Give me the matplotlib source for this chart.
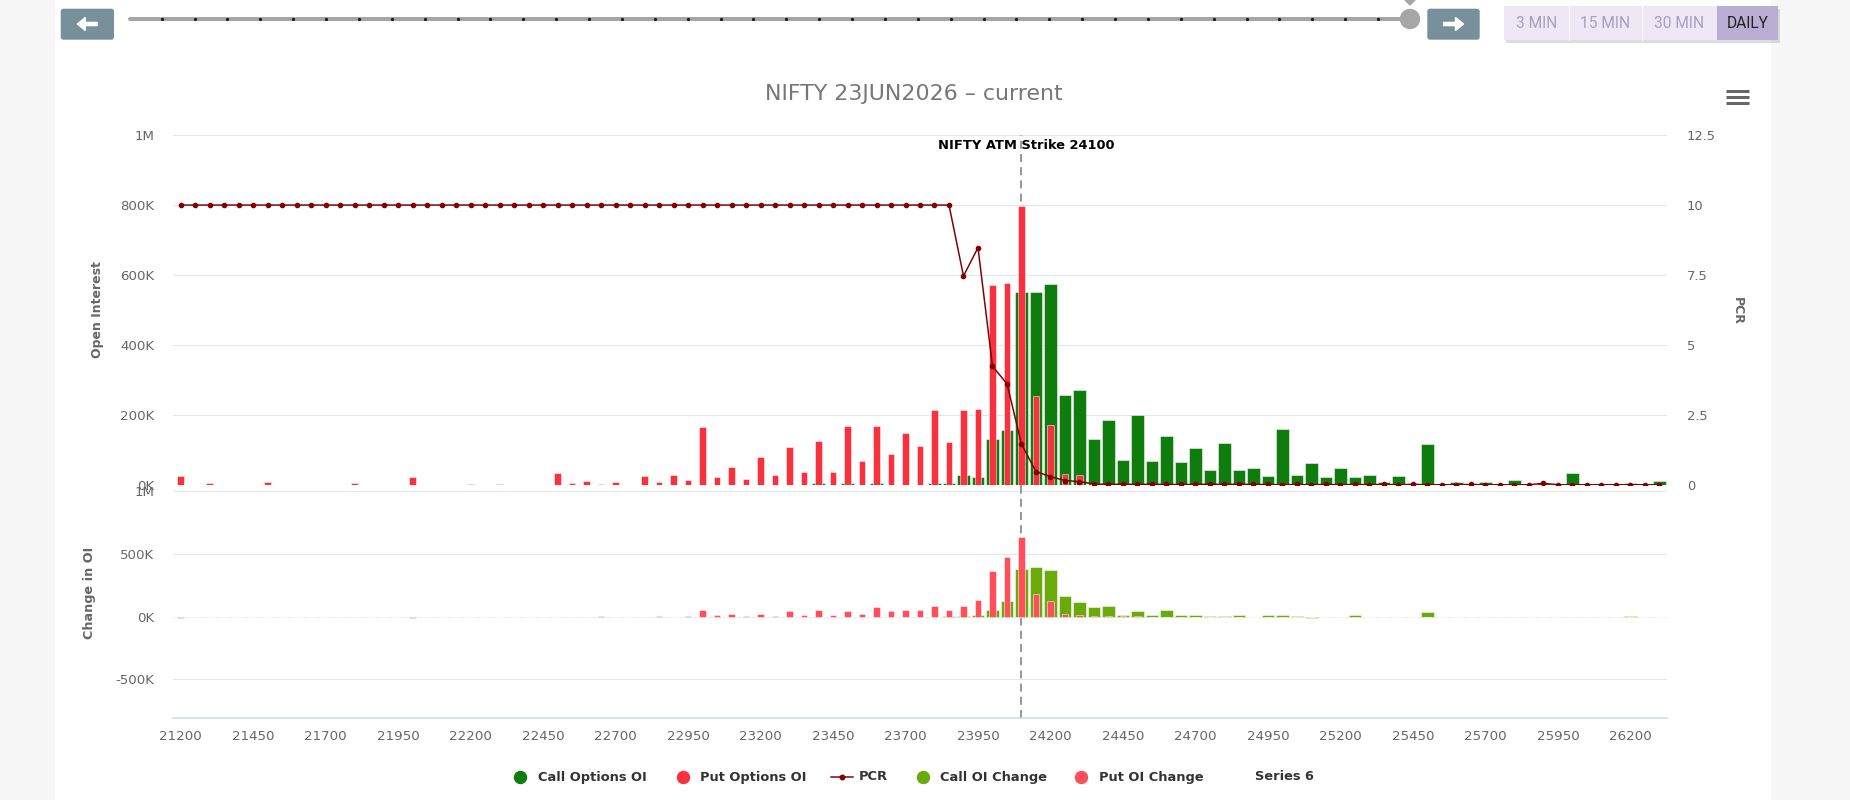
import numpy as np
import matplotlib
matplotlib.use("Agg")
import matplotlib.pyplot as plt
from matplotlib.patches import Rectangle, Circle, Polygon, FancyArrow, FancyBboxPatch
from matplotlib.ticker import FixedLocator, FuncFormatter

# ---------------- data ----------------
strikes = list(range(21200, 26301, 50))          # 103 strikes
atm_strike = 24100
title_text = "NIFTY 23JUN2026 \u2013 current"
atm_label = "NIFTY ATM Strike 24100"

# Open interest, thousands
call_oi_k = [0]*36 + [2, 0, 0, 0,
             2, 0, 2, 0, 6, 0, 6, 0, 6, 0,
             2, 0, 6, 6, 28, 25, 133, 158, 551, 551,
             576, 258, 272, 133, 187, 72, 201, 69, 141, 67,
             106, 44, 120, 44, 48, 27, 162, 30, 63, 23,
             48, 23, 30, 10, 27, 6, 119, 4, 10, 4,
             10, 2, 15, 2, 6, 2, 34, 2, 2, 2,
             6, 4, 12]
put_oi_k = [27, 2, 6, 0, 0, 0, 10, 0, 2, 0,
            2, 0, 6, 0, 2, 0, 23, 0, 2, 0,
            5, 0, 5, 2, 2, 2, 34, 6, 12, 5,
            10, 2, 27, 10, 30, 15, 166, 23, 51, 19,
            80, 30, 109, 38, 127, 38, 169, 69, 169, 88,
            148, 112, 215, 123, 215, 219, 572, 577, 798, 255,
            172, 33, 29, 3, 3, 3, 3, 2, 2, 2] + [1]*33
pcr = [10.0]*54 + [7.47, 8.48, 4.25, 3.62, 1.47, 0.49, 0.31, 0.17, 0.13, 0.05,
                   0.03, 0.04, 0.03, 0.04, 0.03, 0.03, 0.03, 0.04, 0.03, 0.04,
                   0.03, 0.03, 0.02, 0.03, 0.02, 0.03, 0.02, 0.03, 0.02, 0.03,
                   0.02, 0.03, 0.02, 0.02, 0.02, 0.03, 0.02, 0.02, 0.02, 0.02,
                   0.07, 0.02, 0.02, 0.02, 0.02, 0.02, 0.02, 0.02, 0.02]
# Change in OI, thousands
call_chg_k = [0]*50 + [0, 0, 0, 5, 5, 13, 53, 125, 383, 394,
                       372, 165, 114, 74, 85, 13, 45, 13, 53, 13,
                       13, 5, 5, 13, 0, 13, 13, 5, -8, 0,
                       0, 13, 0, 0, 0, 0, 35, 0, 0, 0,
                       0, 0, 0, 0, 0, 0, 0, 0, 0, 0,
                       5, 0, 0]
put_chg_k = [-8, 0, 0, 0, 0, 0, 0, 0, 0, 0,
             0, 0, 0, 0, 0, 0, -8, 0, 0, 0,
             0, 0, 0, 0, 0, 0, 0, 0, 0, 5,
             0, 0, 0, 5, 0, 5, 53, 13, 24, 8,
             24, 5, 45, 13, 53, 13, 45, 24, 77, 45,
             56, 56, 85, 53, 85, 133, 364, 473, 633, 184,
             122, 24, 13, 5, 5, 5, 5] + [0]*36

legend_labels = ["Call Options OI", "Put Options OI", "PCR",
                 "Call OI Change", "Put OI Change", "Series 6"]
x_tick_strikes = strikes[::5]
oi_ticks = [0, 200000, 400000, 600000, 800000, 1000000]
chg_ticks = [-500000, 0, 500000, 1000000]
pcr_ticks = [0, 2.5, 5, 7.5, 10, 12.5]
buttons = ["3 MIN", "15 MIN", "30 MIN", "DAILY"]

for arr in (call_oi_k, put_oi_k, pcr, call_chg_k, put_chg_k):
    assert len(arr) == len(strikes), len(arr)

call_oi = np.array(call_oi_k) * 1000
put_oi = np.array(put_oi_k) * 1000
call_chg = np.array(call_chg_k) * 1000
put_chg = np.array(put_chg_k) * 1000

# ---------------- style ----------------
C_CALL = "#0e7d0e"
C_PUT = "#f9303d"
C_PCR = "#800000"
C_CALLCHG = "#6aaa0b"
C_PUTCHG = "#ff4f59"
GRID = "#e6e6e6"
LBL = "#666666"
EDGE = (1, 1, 1, 0.5)
PX = 0.72  # points per pixel at dpi 100

W, H = 1850, 800
plt.rcParams["font.family"] = ["DejaVu Sans"]
fig = plt.figure(figsize=(W/100, H/100), dpi=100)
fig.patch.set_facecolor("#f7f7f7")

# background canvas in pixel coordinates
bg = fig.add_axes([0, 0, 1, 1], zorder=-5)
bg.set_xlim(0, W)
bg.set_ylim(H, 0)
bg.axis("off")
bg.add_patch(Rectangle((55, 0), 1770-55, H, color="white", zorder=0))

def fx(x):
    return x / W

def fy(y):
    return 1 - y / H

L, R = 173.3, 1666.7
T1, B1 = 135.0, 485.3
T2, B2 = 491.3, 717.7
ax1 = fig.add_axes([fx(L), fy(B1), (R-L)/W, (B1-T1)/H])
ax2 = fig.add_axes([fx(L), fy(B2), (R-L)/W, (B2-T2)/H], sharex=ax1)

xmin, xmax = strikes[0] - 25, strikes[-1] + 25
step = strikes[1] - strikes[0]

def kfmt(v, pos=None):
    if abs(v) >= 1e6:
        return "%gM" % (v/1e6)
    return "%dK" % round(v/1e3)

for ax in (ax1, ax2):
    ax.set_facecolor("none")
    for s in ax.spines.values():
        s.set_visible(False)
    ax.set_axisbelow(True)
    ax.yaxis.grid(True, color=GRID, lw=1*PX)
    ax.xaxis.grid(False)
    ax.tick_params(axis="both", length=0, labelsize=9.6, labelcolor=LBL)
    ax.tick_params(axis="y", pad=13.7)

ax1.set_xlim(xmin, xmax)
ax1.set_ylim(0, 1e6)
ax1.yaxis.set_major_locator(FixedLocator(oi_ticks))
ax1.yaxis.set_major_formatter(FuncFormatter(kfmt))
ax1.tick_params(axis="x", labelbottom=False)

ax2.set_ylim(-805000, 1e6)
ax2.yaxis.set_major_locator(FixedLocator(chg_ticks))
ax2.yaxis.set_major_formatter(FuncFormatter(kfmt))
ax2.xaxis.set_major_locator(FixedLocator(x_tick_strikes))
ax2.xaxis.set_major_formatter(FuncFormatter(lambda v, p: "%d" % v))
ax2.tick_params(axis="x", pad=9.2)
ax2.spines["bottom"].set_visible(True)
ax2.spines["bottom"].set_color("#ccd6eb")
ax2.spines["bottom"].set_linewidth(1.5*PX)

# bars
ax1.bar(strikes, call_oi, width=step*0.85, color=C_CALL, edgecolor=EDGE,
        linewidth=PX, zorder=2)
ax1.bar(strikes, put_oi, width=step*0.45, color=C_PUT, edgecolor=EDGE,
        linewidth=PX, zorder=3)
ax2.bar(strikes, call_chg, width=step*0.85, color=C_CALLCHG, edgecolor=EDGE,
        linewidth=PX, zorder=2)
ax2.bar(strikes, put_chg, width=step*0.45, color=C_PUTCHG, edgecolor=EDGE,
        linewidth=PX, zorder=3)

# ATM plot line
dash = (0, (4, 2.6))
ax1.axvline(atm_strike, ymin=-0.02, ymax=1, color="#999999", lw=2*PX,
            ls=dash, zorder=1.5, clip_on=False)
ax2.axvline(atm_strike, color="#999999", lw=2*PX, ls=dash, zorder=1.5)

# PCR on secondary axis
ax1r = ax1.twinx()
for s in ax1r.spines.values():
    s.set_visible(False)
ax1r.set_ylim(0, 12.5)
ax1r.yaxis.set_major_locator(FixedLocator(pcr_ticks))
ax1r.yaxis.set_major_formatter(FuncFormatter(lambda v, p: "%g" % v))
ax1r.tick_params(axis="y", length=0, labelsize=9.4, labelcolor=LBL, pad=14.4)
ax1r.plot(strikes, pcr, color=C_PCR, lw=1.5*PX, marker="o", ms=4.2*PX,
          zorder=5)

ax1r.annotate(atm_label, xy=(atm_strike, 1.0),
              xycoords=("data", "axes fraction"),
              xytext=(5.0*PX, -14.0*PX), textcoords="offset points",
              ha="center", va="baseline", fontsize=9.4, fontweight="bold",
              color="black", zorder=10)

# axis titles
fig.text(fx(98), fy(310), "Open Interest", rotation=90, ha="center",
         va="center", fontsize=9.0, fontweight="bold", color=LBL)
fig.text(fx(89), fy(593), "Change in OI", rotation=90, ha="center",
         va="center", fontsize=9.2, fontweight="bold", color=LBL)
fig.text(fx(1737), fy(311), "PCR", rotation=270, ha="center",
         va="center", fontsize=9.0, fontweight="bold", color=LBL)

# chart title
fig.text(fx(913.5), fy(100), title_text, ha="center", va="baseline",
         fontsize=15.9, color="#777777")

# legend
leg_y = 777
marker_x = [519.5, 683.0, None, 923.0, 1080.6, None]
marker_c = [C_CALL, C_PUT, None, C_CALLCHG, C_PUTCHG, None]
text_x = [537.6, 700.5, 858.5, 939.7, 1098.8, 1255.0]
for lab, mx, mc, tx in zip(legend_labels, marker_x, marker_c, text_x):
    if mx is not None:
        bg.plot([mx], [leg_y], marker="o", ms=12*PX, color=mc,
                ls="none", zorder=2)
    bg.text(tx, leg_y, lab, ha="left", va="center", fontsize=9.4,
            fontweight="bold", color="#333333", zorder=2)
bg.plot([831, 853], [leg_y, leg_y], color=C_PCR, lw=1.5*PX, zorder=2)
bg.plot([842], [leg_y], marker="o", ms=4.5*PX, color=C_PCR, zorder=3)

# hamburger icon
for yy in (91, 97, 103):
    bg.plot([1726, 1749], [yy, yy], color="#666666", lw=3*PX,
            solid_capstyle="butt", zorder=2)

# top navigator slider
bg.plot([130, 1410], [19, 19], color="#a6a6a6", lw=4*PX,
        solid_capstyle="round", zorder=1)
bg.scatter(np.linspace(161.7, 1378, 38), np.full(38, 19.0), s=(3.2*PX)**2,
           color="#1a1a1a", zorder=2, linewidths=0)
bg.add_patch(Circle((1410, 19), 9.5, color="#a6a6a6", zorder=2))
bg.add_patch(Polygon([(1405, 0), (1415, 0), (1410, 5)], color="#a6a6a6",
                     zorder=2))

# arrow buttons
for x0, x1, direction in ((61.4, 113.3, -1), (1428.0, 1479.0, 1)):
    bg.add_patch(FancyBboxPatch((x0, 9.4), x1 - x0, 29.6,
                                boxstyle="round,pad=0,rounding_size=2",
                                color="#78909c", zorder=2))
    cx = (x0 + x1) / 2
    bg.add_patch(FancyArrow(cx - direction*10, 24, direction*20, 0,
                            width=3.2, head_width=13, head_length=8,
                            length_includes_head=True, color="white",
                            zorder=3))

# range buttons
bx = [1504, 1569, 1642, 1717, 1778]
bg.add_patch(Rectangle((1506, 9), 1778 - 1504, 34, color="#9e9e9e",
                       alpha=0.35, zorder=1, lw=0))
bg.add_patch(Rectangle((1504, 6), 1778 - 1504, 34, color="#ede7f6",
                       zorder=2, lw=0))
bg.add_patch(Rectangle((1717, 6), 1778 - 1717, 34, color="#b9add3",
                       zorder=3, lw=0))
for xd in bx[1:3]:
    bg.plot([xd, xd], [6, 40], color="white", lw=1*PX, zorder=3)
for i, lab in enumerate(buttons):
    sel = (lab == "DAILY")
    bg.text((bx[i] + bx[i+1]) / 2, 23.5, lab, ha="center", va="center",
            fontsize=11.2, family=["Roboto", "DejaVu Sans"],
            color="#222222" if sel else "#a8a0bd", zorder=4)

fig.savefig("out.png", dpi=100, facecolor=fig.get_facecolor())
